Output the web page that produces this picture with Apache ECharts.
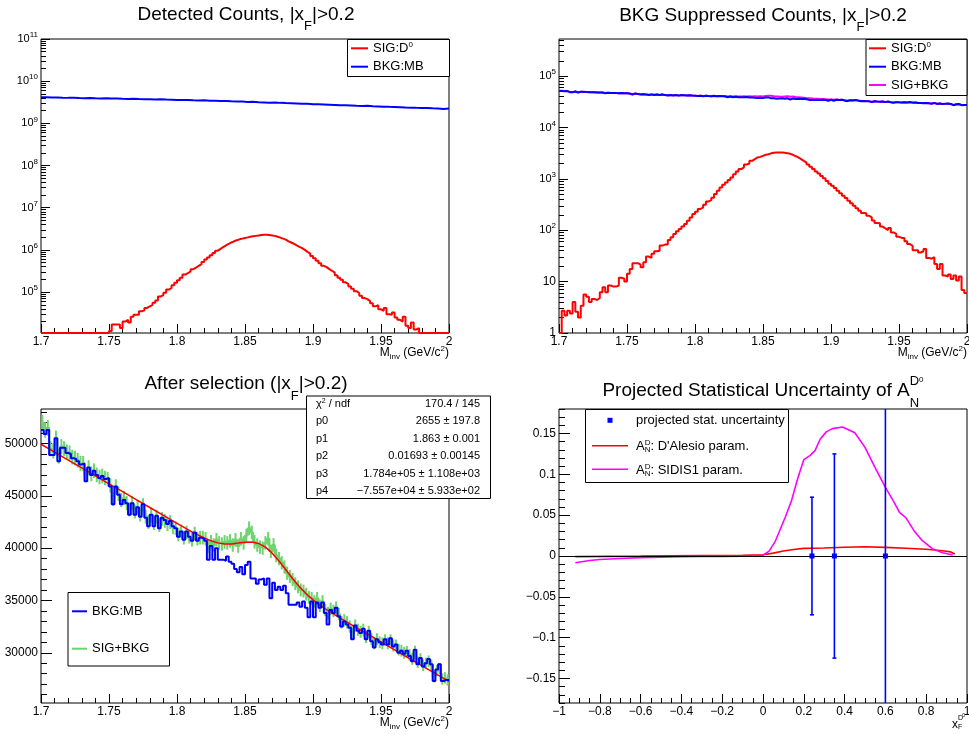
<!DOCTYPE html>
<html><head><meta charset="utf-8">
<script src="https://cdn.jsdelivr.net/npm/echarts@6/dist/echarts.min.js"></script>
<style>html,body{margin:0;padding:0;background:#fff}#c{width:969px;height:735px}</style>
</head><body><div id="c"></div>
<script>
// ---------------- DATA ----------------
const massRange = [1.7, 2.0];
const massTicks = [1.7, 1.75, 1.8, 1.85, 1.9, 1.95, 2.0];
const p1Decades = [5, 6, 7, 8, 9, 10, 11];
const p2Decades = [0, 1, 2, 3, 4, 5];
const p3YTicks = [30000, 35000, 40000, 45000, 50000];
const xfTicks = [-1, -0.8, -0.6, -0.4, -0.2, 0, 0.2, 0.4, 0.6, 0.8, 1];
const anTicks = [-0.15, -0.1, -0.05, 0, 0.05, 0.1, 0.15];

// Panel 1: detected counts (150 bins signal, 75 bins background)
const p1Sig = [
0,0,0,0,0,0,0,0,0,0, 0,0,0,0,0,0,0,0,0,0, 0,0,0,0,0,
1.2e4,1.7e4,1.7e4,1.7e4,1.4e4, 2.0e4,2.2e4,1.9e4,2.6e4,2.9e4,
2.9e4,3.5e4,3.7e4,4.2e4,4.6e4, 5.0e4,5.6e4,6.3e4,7.9e4,8.5e4,
9.6e4,1.15e5,1.25e5,1.45e5,1.66e5, 1.9e5,2.2e5,2.6e5,2.8e5,3.1e5,
3.5e5,3.8e5,4.2e5,4.6e5,5.2e5, 5.9e5,6.6e5,7.5e5,8.5e5,9.6e5,
1.06e6,1.17e6,1.28e6,1.39e6,1.5e6, 1.6e6,1.7e6,1.78e6,1.85e6,1.92e6,
1.98e6,2.05e6,2.1e6,2.15e6,2.2e6, 2.25e6,2.28e6,2.3e6,2.25e6,2.2e6,
2.15e6,2.05e6,1.95e6,1.85e6,1.75e6, 1.6e6,1.5e6,1.4e6,1.28e6,1.18e6,
1.1e6,1.0e6,9.0e5,8.2e5,7.2e5, 6.3e5,5.5e5,4.8e5,4.2e5,3.9e5,
3.5e5,3.2e5,2.9e5,2.5e5,2.2e5, 1.95e5,1.7e5,1.55e5,1.35e5,1.2e5,
1.05e5,9.5e4,8.2e4,7.2e4,6.8e4, 6.1e4,5.4e4,4.6e4,4.9e4,3.9e4,
3.6e4,4.2e4,3.0e4,2.9e4,3.3e4, 2.5e4,2.2e4,2.0e4,2.6e4,1.6e4,
1.4e4,1.9e4,1.3e4,1.4e4,0, 0,0,0,0,0, 0,0,0,0,0];
const p1Bkg = [
4.15e9,4.10e9,4.12e9,4.05e9,4.02e9,4.04e9,3.98e9,3.96e9,3.99e9,3.93e9,
3.90e9,3.92e9,3.86e9,3.88e9,3.82e9,3.80e9,3.83e9,3.76e9,3.74e9,3.72e9,
3.70e9,3.73e9,3.66e9,3.64e9,3.60e9,3.56e9,3.58e9,3.52e9,3.50e9,3.52e9,
3.45e9,3.42e9,3.38e9,3.40e9,3.33e9,3.30e9,3.28e9,3.22e9,3.24e9,3.18e9,
3.14e9,3.10e9,3.12e9,3.06e9,3.02e9,2.99e9,2.96e9,2.92e9,2.90e9,2.84e9,
2.82e9,2.79e9,2.76e9,2.73e9,2.70e9,2.68e9,2.65e9,2.61e9,2.58e9,2.60e9,
2.54e9,2.52e9,2.49e9,2.46e9,2.44e9,2.42e9,2.38e9,2.36e9,2.33e9,2.31e9,
2.30e9,2.27e9,2.25e9,2.20e9,2.24e9];

// Panel 2: background-suppressed signal (150 bins)
const p2Sig = [
1,2.7,2.2,2.7,2.4,4.0,2.6,2.0,3.4,5.6,
5.1,4.0,4.6,4.4,4.8,6.2,7.8,6.2,8.4,8.0,
8.0,8.4,11.9,11.4,10.1,14.2,17.7,22.9,22.9,21.5,
19.1,23.9,30.8,29,34.8,39,40,50.4,52.6,53,
64.7,73,85,95.5,106,118,133,154,178,208,
230,260,280,315,365,387,430,510,590,685,
770,855,950,1070,1240,1400,1560,1680,1900,2000,
2250,2440,2620,2690,2820,2950,3030,3150,3220,3260,
3260,3260,3220,3150,3080,2950,2780,2620,2440,2250,
2080,1900,1730,1560,1400,1270,1140,1030,910,810,
740,665,590,525,470,425,375,335,300,270,
240,217,214,192,178,155,139,137,118,109,
101,111,91,85,75,71,71,61,54,50,
41,41,37,39,43,29,28,30,22,17.7,
22,13.2,12.6,13.8,11.3,13.2,10.5,12.6,6.9,6.0];

// After selection (panels 2 and 3): BKG:MB and SIG+BKG, 150 bins
const bkgSel = [
51300,50900,51300,48900,48900,50500,48300,49600,49600,49100,
49000,48600,48500,48300,48000,48100,46400,47700,47000,47400,
47000,46700,46900,46600,46700,45900,44200,45900,45100,44200,
44600,44300,43200,44300,43200,43900,43000,44200,42900,42100,
43200,42100,43100,41900,42900,42700,42300,42600,42100,41900,
41100,41600,40800,41600,41100,40700,41500,40700,41000,40900,
40700,38900,40200,38900,40000,38900,38900,38800,39200,38700,
38500,38000,37700,38200,37500,38400,38700,37100,37100,36600,
37000,37100,36500,37100,35200,36700,36000,36300,36000,36400,
35700,34600,34600,34600,34800,34400,34900,34300,33400,34900,
33400,34800,34300,34800,33800,32700,34100,33800,34300,33500,
32500,33000,32700,32400,31300,32600,32100,31900,32300,31300,
32100,31100,30500,31300,31000,30800,31300,30800,31400,30600,
30800,30000,30200,29900,30200,29700,29200,30300,28900,29500,
28700,29000,29400,28900,27300,28400,28900,27300,27400,27400];
const sigBkgSel = [
52000,51300,51500,49500,49300,50500,48800,49700,49500,49200,
49100,48700,48600,48400,48100,48100,47000,47700,47100,47400,
47000,46800,46900,46700,46600,46000,44700,45900,45200,44600,
44800,44300,43700,44300,43500,43900,43200,44100,43000,42500,
43200,42400,43000,42200,42800,42600,42300,42500,42000,41900,
41300,41600,41000,41500,41100,40800,41400,40900,41000,41000,
40900,40200,40600,40300,40800,40500,40400,40600,40500,40700,
40300,40800,40200,40900,40500,41200,41900,41500,40600,40300,
40100,40000,40500,40900,39700,40300,39300,39000,38600,38200,
37600,37300,37000,36600,36300,36000,35900,35600,35300,35200,
34900,35200,34500,34900,34100,33800,34200,34000,34300,33700,
32900,33100,32900,32500,31800,32600,32200,32000,32200,31500,
32000,31300,30900,31300,31000,30900,31200,30900,31200,30700,
30700,30300,30200,30000,30100,29800,29400,30100,29100,29400,
28800,29000,29200,28800,27700,28300,28500,27500,27600,27400];
const sigBkgErr = [
750,740,745,725,725,730,720,725,725,720,
720,710,710,710,708,708,700,705,700,702,
700,695,698,692,692,688,675,688,682,676,
680,676,670,676,668,672,665,674,665,660,
666,660,664,658,663,662,660,662,657,656,
651,654,650,652,650,648,652,648,650,650,
648,644,647,644,648,645,645,647,645,647,
645,648,644,650,647,653,657,655,648,645,
644,642,647,650,640,652,644,642,640,635,
630,625,622,619,615,615,613,609,608,608,
603,606,600,603,596,593,597,596,599,593,
586,587,586,583,577,584,580,579,580,574,
579,573,570,573,571,570,573,570,573,568,
568,566,564,563,563,561,557,563,554,557,
551,552,554,551,540,545,548,540,541,539];
// fit curve
const fitX = [1.70,1.71,1.72,1.73,1.74,1.75,1.76,1.77,1.78,1.79,1.80,1.81,1.815,1.82,1.825,1.83,1.835,1.84,1.845,1.85,1.855,1.86,1.865,1.87,1.875,1.88,1.885,1.89,1.895,1.90,1.905,1.91,1.92,1.93,1.94,1.95,1.96,1.97,1.98,1.99,2.00];
const fitY = [49931,49175,48420,47664,46908,46153,45397,44641,43885,43130,42374,41618,41288,40968,40699,40505,40405,40405,40482,40575,40592,40453,40099,39521,38771,37932,37093,36316,35640,35061,34561,34117,33310,32550,31794,31039,30283,29527,28771,28016,27260];
const statsLabels = ['χ2 / ndf','p0','p1','p2','p3','p4'];
const statsValues = ['170.4 / 145','2655 ± 197.8','1.863 ± 0.001','0.01693 ± 0.00145','1.784e+05 ± 1.108e+03','\u22127.557e+04 ± 5.933e+02'];

// Panel 4
const xfPoints = [0.24, 0.35, 0.6];
const xfVal = [0, 0, 0];
const xfErr = [0.072, 0.125, 0.25];
const dalesioX = [-0.92,-0.6,-0.3,-0.1,0.0,0.05,0.1,0.15,0.2,0.3,0.4,0.5,0.6,0.7,0.8,0.88,0.92,0.94];
const dalesioY = [-0.0008,-0.0002,0.0004,0.0008,0.0015,0.0035,0.0062,0.008,0.0093,0.0098,0.0108,0.0114,0.0106,0.0094,0.0082,0.0064,0.005,0.0025];
const sidisX = [-0.92,-0.85,-0.8,-0.7,-0.6,-0.5,-0.4,-0.3,-0.2,-0.1,-0.05,0.0,0.03,0.06,0.08,0.11,0.14,0.17,0.2,0.23,0.255,0.28,0.31,0.34,0.39,0.45,0.5,0.55,0.6,0.64,0.67,0.7,0.74,0.78,0.83,0.88,0.93];
const sidisY = [-0.0082,-0.0055,-0.0042,-0.003,-0.002,-0.0015,-0.001,-0.0007,-0.0005,-0.0003,-0.0002,0.001,0.006,0.018,0.03,0.048,0.068,0.095,0.118,0.123,0.129,0.143,0.152,0.156,0.158,0.151,0.133,0.108,0.084,0.067,0.053,0.047,0.031,0.019,0.009,0.004,0.0012];

// ---------------- HELPERS ----------------
const FONT = 'Liberation Sans';
const RED = '#ff0000', BLUE = '#0000ff', MAG = '#ff00ff', GREEN = '#6fd36f';
const P1MIN = 4.03, P1MAX = 11, P2MIN = 0, P2MAX = 5.725;
const P3MIN = 25200, P3MAX = 53300, P4MIN = -0.18, P4MAX = 0.18;

const cv = document.createElement('canvas').getContext('2d');
function tw(t, fs) { cv.font = fs + 'px "' + FONT + '"'; return cv.measureText(t).width; }
function txt(x, y, t, fs, color, align) {
  return {type: 'text', x: x, y: y, silent: true, z: 100,
    style: {text: t, fontSize: fs, fontFamily: FONT, fill: color || '#000',
      align: align || 'left', verticalAlign: 'middle', textAlign: align || 'left', textVerticalAlign: 'middle'}};
}
function seq(x, y, parts, align, color) {
  let total = 0;
  parts.forEach(p => { if (!p[3]) total += tw(p[0], p[1]); });
  let cx = align === 'center' ? x - total / 2 : align === 'right' ? x - total : x;
  const out = [];
  parts.forEach(p => {
    out.push(txt(cx, y + (p[2] || 0), p[0], p[1], color));
    if (!p[3]) cx += tw(p[0], p[1]);
  });
  return out;
}
function ln(x1, y1, x2, y2, color, w) {
  return {type: 'line', silent: true, z: 100, shape: {x1, y1, x2, y2}, style: {stroke: color, lineWidth: w || 1}};
}
function box(x, y, w, h) {
  return {type: 'rect', silent: true, z: 99, shape: {x: x + 0.5, y: y + 0.5, width: w, height: h}, style: {fill: '#fff', stroke: '#000', lineWidth: 1}};
}
function hist(vals, lo, hi, tf) {
  const n = vals.length, w = (hi - lo) / n;
  const f = tf || (v => v);
  const d = vals.map((v, i) => [lo + i * w, f(v)]);
  d.push([hi, f(vals[n - 1])]);
  return d;
}
const logT = floor => (v => v > 0 ? Math.log10(v) : floor);
function range(a, b, step) { const r = []; for (let k = Math.round(a / step); k <= Math.round(b / step); k++) r.push(k * step); return r; }
function logMinor(lo, hi) { const r = []; for (let n = Math.floor(lo); n <= Math.ceil(hi); n++) for (let k = 2; k <= 9; k++) { const v = n + Math.log10(k); if (v >= lo && v <= hi) r.push(v); } return r; }
const num = v => { const a = Math.abs(v) < 1e-9 ? 0 : v; const s = String(+Math.abs(a).toFixed(2)); return a < 0 ? '\u2212' + s : s; };

function axisPair(gi, dim, min, max, major, minor, fmt, o) {
  const base = {type: 'value', gridIndex: gi, min: min, max: max, position: dim === 'x' ? 'bottom' : 'left',
    axisLine: {show: false, onZero: false}, splitLine: {show: false}, minorTick: {show: false}, minorSplitLine: {show: false}};
  const maj = Object.assign({}, base, {
    axisTick: {show: true, inside: true, length: o.majLen, lineStyle: {color: '#000', width: 1}, customValues: major},
    axisLabel: {show: true, customValues: major, formatter: fmt, color: '#000', fontSize: o.fs || 12, fontFamily: FONT,
      margin: o.margin || 3, rich: o.rich, showMinLabel: true, showMaxLabel: true, hideOverlap: false}
  });
  const mnr = Object.assign({}, base, {
    axisTick: {show: true, inside: true, length: o.minLen, lineStyle: {color: '#000', width: 1}, customValues: minor},
    axisLabel: {show: false}
  });
  return [maj, mnr];
}

const logRich = {
  b: {fontSize: 11, fontFamily: FONT, color: '#000', verticalAlign: 'middle'},
  s: {fontSize: 8, fontFamily: FONT, color: '#000', verticalAlign: 'middle', padding: [0, 0, 8, 0]},
  n: {fontSize: 12, fontFamily: FONT, color: '#000', verticalAlign: 'middle'}
};
const massMinor = range(1.7, 2.0, 0.01);
const massFmt = v => num(v);

const grids = [
  {left: 41, top: 39, width: 408, height: 294},
  {left: 559, top: 39, width: 408, height: 294},
  {left: 41, top: 409, width: 408, height: 294},
  {left: 559, top: 409, width: 408, height: 294}
].map(g => Object.assign(g, {show: true, borderColor: '#000', borderWidth: 1, backgroundColor: 'transparent', containLabel: false, outerBoundsMode: 'none'}));

const xAxes = [].concat(
  axisPair(0, 'x', massRange[0], massRange[1], massTicks, massMinor, massFmt, {majLen: 9, minLen: 5}),
  axisPair(1, 'x', massRange[0], massRange[1], massTicks, massMinor, massFmt, {majLen: 9, minLen: 5}),
  axisPair(2, 'x', massRange[0], massRange[1], massTicks, massMinor, massFmt, {majLen: 9, minLen: 5}),
  axisPair(3, 'x', -1, 1, xfTicks, range(-1, 1, 0.05), num, {majLen: 9, minLen: 5})
);
const yAxes = [].concat(
  axisPair(0, 'y', P1MIN, P1MAX, p1Decades, logMinor(P1MIN, P1MAX), v => '{b|10}{s|' + Math.round(v) + '}', {majLen: 9, minLen: 5, rich: logRich}),
  axisPair(1, 'y', P2MIN, P2MAX, p2Decades, logMinor(P2MIN, P2MAX), v => { const n = Math.round(v); return n === 0 ? '{n|1}' : n === 1 ? '{n|10}' : '{b|10}{s|' + n + '}'; }, {majLen: 9, minLen: 5, rich: logRich}),
  axisPair(2, 'y', P3MIN, P3MAX, p3YTicks, range(26000, 53000, 1000), v => String(Math.round(v)), {majLen: 11, minLen: 6}),
  axisPair(3, 'y', P4MIN, P4MAX, anTicks, range(-0.18, 0.18, 0.01), num, {majLen: 11, minLen: 6})
);

function stepLine(xi, yi, data, color, w, z) {
  return {type: 'line', xAxisIndex: xi, yAxisIndex: yi, data: data, step: 'end', showSymbol: false, symbol: 'none',
    lineStyle: {color: color, width: w || 2}, itemStyle: {color: color}, z: z || 2, silent: true, animation: false};
}
const binW = (massRange[1] - massRange[0]) / sigBkgSel.length;

const series = [
  // Panel 1
  stepLine(0, 0, hist(p1Bkg, massRange[0], massRange[1], logT(P1MIN)), BLUE, 2),
  stepLine(0, 0, hist(p1Sig, massRange[0], massRange[1], logT(P1MIN)), RED, 2),
  // Panel 2
  stepLine(2, 2, hist(sigBkgSel, massRange[0], massRange[1], logT(P2MIN)), MAG, 2),
  stepLine(2, 2, hist(bkgSel, massRange[0], massRange[1], logT(P2MIN)), BLUE, 2),
  stepLine(2, 2, hist(p2Sig, massRange[0], massRange[1], logT(P2MIN)), RED, 2),
  // Panel 3
  {type: 'custom', xAxisIndex: 4, yAxisIndex: 4, silent: true, animation: false, clip: true, z: 2,
    data: sigBkgSel.map((v, i) => [massRange[0] + (i + 0.5) * binW, v, sigBkgErr[i]]),
    renderItem: (p, api) => {
      const x = api.value(0), y = api.value(1), e = api.value(2);
      const a = api.coord([x, y + e]), b = api.coord([x, y - e]);
      return {type: 'line', shape: {x1: a[0], y1: a[1], x2: b[0], y2: b[1]}, style: {stroke: GREEN, lineWidth: 2}};
    }},
  stepLine(4, 4, hist(sigBkgSel, massRange[0], massRange[1]), GREEN, 2, 3),
  {type: 'line', xAxisIndex: 4, yAxisIndex: 4, data: fitX.map((x, i) => [x, fitY[i]]), showSymbol: false, symbol: 'none',
    lineStyle: {color: RED, width: 1.5}, z: 4, silent: true, animation: false},
  stepLine(4, 4, hist(bkgSel, massRange[0], massRange[1]), BLUE, 2, 5),
  // Panel 4
  {type: 'line', xAxisIndex: 6, yAxisIndex: 6, data: [], silent: true, animation: false,
    markLine: {silent: true, symbol: 'none', animation: false, label: {show: false},
      lineStyle: {color: '#000', width: 1, type: 'solid'}, data: [{yAxis: 0}]}},
  {type: 'line', xAxisIndex: 6, yAxisIndex: 6, data: dalesioX.map((x, i) => [x, dalesioY[i]]), showSymbol: false, symbol: 'none',
    lineStyle: {color: RED, width: 1.6}, z: 3, silent: true, animation: false},
  {type: 'line', xAxisIndex: 6, yAxisIndex: 6, data: sidisX.map((x, i) => [x, sidisY[i]]), showSymbol: false, symbol: 'none',
    lineStyle: {color: MAG, width: 1.6}, z: 3, silent: true, animation: false},
  {type: 'custom', xAxisIndex: 6, yAxisIndex: 6, silent: true, animation: false, z: 5,
    data: xfPoints.map((x, i) => [x, xfVal[i], xfErr[i]]),
    renderItem: (p, api) => {
      const cs = p.coordSys;
      const x = api.value(0), y = api.value(1), e = api.value(2);
      const c = api.coord([x, y]);
      const t = api.coord([x, y + e])[1], b = api.coord([x, y - e])[1];
      const top = cs.y, bot = cs.y + cs.height;
      const tt = Math.max(t, top), bb = Math.min(b, bot);
      const ch = [{type: 'line', shape: {x1: c[0], y1: tt, x2: c[0], y2: bb}, style: {stroke: BLUE, lineWidth: 1.6}}];
      if (t >= top) ch.push({type: 'line', shape: {x1: c[0] - 2, y1: t, x2: c[0] + 2, y2: t}, style: {stroke: BLUE, lineWidth: 1.6}});
      if (b <= bot) ch.push({type: 'line', shape: {x1: c[0] - 2, y1: b, x2: c[0] + 2, y2: b}, style: {stroke: BLUE, lineWidth: 1.6}});
      ch.push({type: 'rect', shape: {x: c[0] - 2.5, y: c[1] - 2.5, width: 5, height: 5}, style: {fill: BLUE}});
      return {type: 'group', children: ch};
    }}
];

// ---------------- TEXT / LEGENDS ----------------
let g = [];
// titles
g = g.concat(seq(246, 14.5, [['Detected Counts, |x', 19], ['F', 13, 12], ['|>0.2', 19]], 'center'));
g = g.concat(seq(763, 15.5, [['BKG Suppressed Counts, |x', 19], ['F', 13, 12], ['|>0.2', 19]], 'center'));
g = g.concat(seq(246, 384, [['After selection (|x', 19], ['F', 13, 12], ['|>0.2)', 19]], 'center'));
g = g.concat(seq(763, 391, [['Projected Statistical Uncertainty of A', 19], ['D', 13, -10, true], ['N', 13, 12], ['0', 8, -11]], 'center'));
// axis titles
const mTitle = [['M', 12], ['inv', 8, 4], [' (GeV/c', 12], ['2', 8, -4], [')', 12]];
g = g.concat(seq(449, 353, mTitle, 'right'));
g = g.concat(seq(967, 353, mTitle, 'right'));
g = g.concat(seq(449, 723, mTitle, 'right'));
g = g.concat(seq(952, 724.5, [['x', 12], ['D', 7, -6, true], ['F', 7, 2.5], ['0', 5, -9]], 'left'));

// legend 1
g.push(box(347, 39, 102, 37));
g.push(ln(351, 48.3, 368, 48.3, RED, 2));
g = g.concat(seq(373, 48.3, [['SIG:D', 13], ['0', 8, -4]], 'left'));
g.push(ln(351, 66.7, 368, 66.7, BLUE, 2));
g = g.concat(seq(373, 66.7, [['BKG:MB', 13]], 'left'));
// legend 2
g.push(box(865.5, 39, 101, 56));
g.push(ln(869, 48.3, 886, 48.3, RED, 2));
g = g.concat(seq(891, 48.3, [['SIG:D', 13], ['0', 8, -4]], 'left'));
g.push(ln(869, 66.7, 886, 66.7, BLUE, 2));
g = g.concat(seq(891, 66.7, [['BKG:MB', 13]], 'left'));
g.push(ln(869, 85, 886, 85, MAG, 2));
g = g.concat(seq(891, 85, [['SIG+BKG', 13]], 'left'));
// legend 3
g.push(box(67.5, 592, 101.5, 73.5));
g.push(ln(72, 611.3, 87, 611.3, BLUE, 2));
g = g.concat(seq(92, 611.3, [['BKG:MB', 13]], 'left'));
g.push(ln(72, 648.7, 87, 648.7, GREEN, 2));
g = g.concat(seq(92, 648.7, [['SIG+BKG', 13]], 'left'));
// stats box
g.push(box(306, 395.5, 184, 102.5));
const rowsY = [404, 421.3, 439, 456.3, 474, 490.7];
statsLabels.forEach((l, i) => {
  if (i === 0) g = g.concat(seq(316, rowsY[i], [['χ', 11], ['2', 7, -3], [' / ndf', 11]], 'left'));
  else g.push(txt(316, rowsY[i], l, 11));
  g.push(txt(480, rowsY[i], statsValues[i], 11, '#000', 'right'));
});
// legend 4
g.push(box(585, 409, 203, 73));
g.push({type: 'rect', silent: true, z: 100, shape: {x: 607.5, y: 417.8, width: 5, height: 5}, style: {fill: BLUE}});
g = g.concat(seq(636, 420.3, [['projected stat. uncertainty', 13]], 'left'));
g.push(ln(592, 445.7, 628, 445.7, RED, 1.6));
g = g.concat(seq(636, 446.7, [['A', 13], ['D', 8, -4, true], ['N', 8, 3], [": D'Alesio param.", 13]], 'left'));
g.push(ln(592, 469.3, 628, 469.3, MAG, 1.6));
g = g.concat(seq(636, 470.3, [['A', 13], ['D', 8, -4, true], ['N', 8, 3], [': SIDIS1 param.', 13]], 'left'));

const chart = echarts.init(document.getElementById('c'), null, {renderer: 'canvas'});
chart.setOption({
  animation: false,
  backgroundColor: '#fff',
  textStyle: {fontFamily: FONT},
  grid: grids,
  xAxis: xAxes,
  yAxis: yAxes,
  series: series,
  graphic: {elements: g}
});
</script></body></html>
